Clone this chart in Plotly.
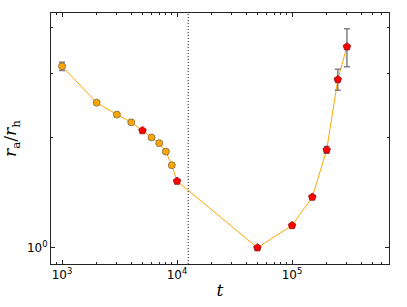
import plotly.graph_objects as go

# data
t_vals = [1000, 2000, 3000, 4000, 5000, 6000, 7000, 8000, 9000, 10000,
          50000, 100000, 150000, 200000, 250000, 300000]
ratio = [3.13, 2.49, 2.31, 2.20, 2.09, 2.00, 1.93, 1.83, 1.68, 1.52,
         1.0, 1.15, 1.375, 1.85, 2.88, 3.54]
err = [0.08, 0.0, 0.0, 0.0, 0.01, 0.0, 0.0, 0.0, 0.0, 0.01,
       0.01, 0.01, 0.015, 0.04, 0.19, 0.42]
is_red = [False, False, False, False, True, False, False, False, False, True,
          True, True, True, True, True, True]
t_mark = 12500
x_major = [1e3, 1e4, 1e5]
x_major_text = ["10<sup>3</sup>", "10<sup>4</sup>", "10<sup>5</sup>"]
y_major = [1]
y_major_text = ["10<sup>0</sup>"]
y_minor = [2, 3, 4]

x_minor = []
for dec in [100, 1000, 10000, 100000]:
    for k in range(2, 10):
        v = k * dec
        if 800 <= v <= 7e5:
            x_minor.append(v)

fig = go.Figure()
fig.add_trace(go.Scatter(x=t_vals, y=ratio, mode="lines",
                         line=dict(color="#FFA500", width=1), showlegend=False))

for flag, sym, fill, edge, size in [(False, "circle", "#FFA500", "#7a6a4a", 7),
                                    (True, "pentagon", "#FF0000", "#8a1a1a", 8)]:
    xs = [t for t, r in zip(t_vals, is_red) if r == flag]
    ys = [v for v, r in zip(ratio, is_red) if r == flag]
    es = [e for e, r in zip(err, is_red) if r == flag]
    fig.add_trace(go.Scatter(
        x=xs, y=ys, mode="markers",
        marker=dict(symbol=sym, color=fill, size=size, line=dict(color=edge, width=0.8)),
        error_y=dict(type="data", array=es, visible=True, color="#808080", thickness=1.5, width=3),
        showlegend=False))

fig.add_shape(type="line", x0=t_mark, x1=t_mark, y0=0, y1=1, xref="x", yref="paper",
              line=dict(color="#222222", width=1, dash="1px,2px"))

axis_common = dict(showline=True, linecolor="#222222", linewidth=1, mirror="ticks",
                   ticks="inside", ticklen=4, tickcolor="#222222", showgrid=False,
                   zeroline=False, automargin=False,
                   tickfont=dict(family="DejaVu Sans", size=12, color="black"))

fig.update_xaxes(type="log", range=[2.904, 5.843], tickmode="array", tickvals=x_major,
                 ticktext=x_major_text,
                 minor=dict(tickmode="array", tickvals=x_minor, ticks="inside", ticklen=2,
                            tickcolor="#222222", showgrid=False),
                 title=dict(text="<i>t</i>", font=dict(family="DejaVu Serif", size=17, color="black"),
                            standoff=2),
                 **axis_common)
fig.update_yaxes(type="log", range=[-0.0445, 0.641], tickmode="array", tickvals=y_major,
                 ticktext=y_major_text,
                 minor=dict(tickmode="array", tickvals=y_minor, ticks="inside", ticklen=2,
                            tickcolor="#222222", showgrid=False),
                 title=dict(text="<i>r</i><sub>a</sub>/<i>r</i><sub>h</sub>",
                            font=dict(family="DejaVu Serif", size=17, color="black"), standoff=6),
                 **axis_common)

fig.update_layout(width=407, height=307, margin=dict(l=51, r=18, t=13, b=43),
                  plot_bgcolor="white", paper_bgcolor="white")
fig.write_html("out.html", config={"displayModeBar": False},
               post_script="document.body.style.margin='0';document.body.style.overflow='hidden';")
